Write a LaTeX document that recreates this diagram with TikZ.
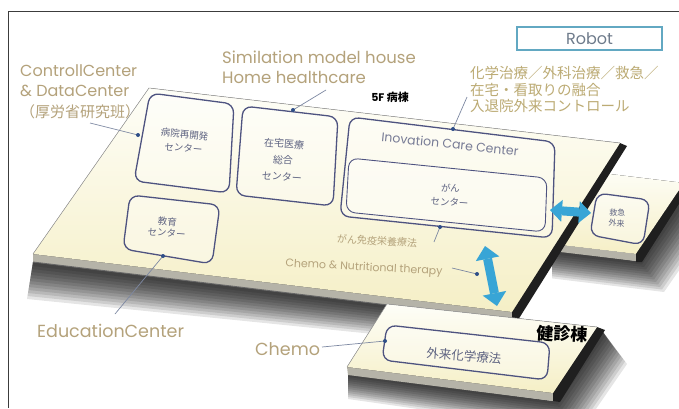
\documentclass[tikz,border=0pt]{standalone}
\usepackage{fontspec}
\setmainfont{Poppins}
\newfontfamily\jp{Noto Sans CJK JP}
\usetikzlibrary{arrows.meta}
\definecolor{labeltan}{HTML}{B4A27B}
\definecolor{labelolive}{HTML}{BCAB74}
\definecolor{boxline}{HTML}{4E5380}
\definecolor{boxtext}{HTML}{5F6482}
\definecolor{leadc}{HTML}{7D88A2}
\definecolor{dotc}{HTML}{2E4E88}
\definecolor{slabbot}{HTML}{F5EFC6}
\definecolor{slabtopc}{HTML}{FEFEF8}
\definecolor{edgegray}{HTML}{B5B3A8}
\definecolor{arrowblue}{HTML}{38A5D6}
\definecolor{robotline}{HTML}{62A8C2}
\definecolor{robottext}{HTML}{6E7B8B}
\definecolor{framec}{HTML}{3C3C3C}
\begin{document}
\begin{tikzpicture}[x=1pt,y=-1pt,
  lbl/.style={text=labeltan, inner sep=0pt, font=\fontsize{16}{18}\selectfont},
  jplbl/.style={text=labelolive, inner sep=0pt, font=\jp\fontsize{14.5}{17}\selectfont},
  boxshape/.style={draw=boxline, line width=1.3pt, rounded corners=9pt, fill=white, fill opacity=0.35},
  boxtxt/.style={text=boxtext, align=center, inner sep=0pt, font=\jp\fontsize{9.5}{14}\selectfont},
  leadline/.style={draw=leadc, line width=0.7pt},
  dotmark/.style={fill=dotc},
  blackedge/.style={fill=black!88},
  grayedge/.style={fill=edgegray},
  facefill/.style={top color=slabtopc, bottom color=slabbot},
  shadowpiece/.style={fill=black, opacity=0.1},
  bluearrow/.style={draw=arrowblue, line width=9pt,
    {Triangle[width=24pt,length=13pt,line width=0pt]}-{Triangle[width=24pt,length=13pt,line width=0pt]}}
]
\clip (0,0) rectangle (679,408);
\fill[white] (0,0) rectangle (679,408);

% ---------- shadows ----------
\foreach \k in {1,...,12} {
  \fill[shadowpiece] (33,262) -- (512,320) -- ({512+1.5*\k},{321+2.4*\k}) -- ({33-0.5*\k},{263+3*\k}) -- cycle;
  \fill[shadowpiece] (552,250) -- (636,261) -- (690,188) -- ({690+2*\k},{190+2.5*\k}) -- ({640+2*\k},{262+2.5*\k}) -- ({552},{252+2.2*\k}) -- cycle;
  \fill[shadowpiece] (348,374) -- (553,401) -- (603,332) -- ({603+2*\k},{334+2.5*\k}) -- ({556+2*\k},{402+2.5*\k}) -- ({348},{375+2*\k}) -- cycle;
}

% ---------- small slab (emergency) ----------
\fill[facefill] (560,168) -- (684,183) -- (636,254) -- (552,244) -- cycle;
\fill[grayedge] (552,244) -- (636,254) -- (636,261) -- (552,251) -- cycle;
\fill[blackedge] (684,183) -- (691,185) -- (642,262) -- (636,262) -- (636,254) -- cycle;

% ---------- main slab (5F) ----------
\fill[grayedge] (33,254) -- (512,312) -- (512,320) -- (33,262) -- cycle;
\draw[black!60, line width=0.9pt] (33,262) -- (512,320);
\fill[blackedge] (620,143) -- (627,146) -- (518,320) -- (512,320) -- (512,312) -- cycle;
\fill[facefill] (149,88) -- (620,143) -- (512,312) -- (33,254) -- cycle;
\draw[black!40, line width=0.5pt] (33,254) -- (149,88) -- (620,143);

% ---------- lower slab ----------
\fill[grayedge] (347,367) -- (553,393) -- (553,401) -- (348,375) -- cycle;
\fill[blackedge] (597,327) -- (605,330) -- (560,402) -- (553,401) -- (553,393) -- cycle;
\fill[facefill] (387,304) -- (597,327) -- (553,393) -- (347,367) -- cycle;
\draw[black!40, line width=0.5pt] (347,367) -- (387,304) -- (597,327);

% ---------- boxes ----------
\draw[boxshape] (150,93) -- (234,104) -- (229,193) -- (134,181) -- cycle;
\node[boxtxt, rotate=-5] (b1) at (184,141) {病院再開発\\センター};

\draw[boxshape] (243,106) -- (338,117) -- (333,206) -- (236,195) -- cycle;
\node[boxtxt, rotate=-4, font=\jp\fontsize{10}{16.5}\selectfont] (b2) at (283,160) {在宅医療\\総合\\センター};

\draw[boxshape] (350,117) -- (555,142) -- (552,238) -- (340,216) -- cycle;
\node[text=boxtext!85, inner sep=0pt, rotate=-6, font=\fontsize{12.5}{14}\selectfont] (icc) at (450,144) {Inovation Care Center};
\draw[boxshape, line width=0.9pt] (349,158) -- (547,178) -- (545,232) -- (346,212) -- cycle;
\node[boxtxt, rotate=-4] (gan) at (450,195) {がん\\センター};

\draw[boxshape] (130,195) -- (220,205) -- (212,264) -- (123,249) -- cycle;
\node[boxtxt, rotate=-4, font=\jp\fontsize{9.5}{11.5}\selectfont] (edu) at (167,227) {教育\\センター};

\draw[boxshape] (597,193) -- (650,200) -- (643,245) -- (590,235) -- cycle;
\node[boxtxt, rotate=-4, font=\jp\fontsize{8}{10.5}\selectfont] (er) at (617,218) {救急\\外来};

\draw[boxshape] (387,325) -- (550,343) -- (547,380) -- (382,360) -- cycle;
\node[boxtxt, rotate=-5, font=\jp\fontsize{12.5}{14}\selectfont] (oc) at (464,356) {外来化学療法};

% ---------- slab titles ----------
\node[inner sep=0pt, font=\bfseries\fontsize{11}{12}\selectfont] (f5) at (390,97) {5F {\jp\bfseries 病棟}};
\node[inner sep=0pt, font=\jp\bfseries\fontsize{17}{20}\selectfont, rotate=-3] (kenshin) at (562,334) {健診棟};

% ---------- blue arrows ----------
\coordinate (va1) at (485,246);
\coordinate (va2) at (497,306);
\draw[bluearrow] (va1) -- (va2);
\coordinate (ha1) at (550,210);
\coordinate (ha2) at (591,213);
\draw[bluearrow, {Triangle[width=22pt,length=12pt,line width=0pt]}-{Triangle[width=22pt,length=12pt,line width=0pt]}] (ha1) -- (ha2);

% ---------- labels ----------
\node[lbl, anchor=west] (cc1) at (20,71) {ControllCenter};
\node[lbl, anchor=west] (cc2) at (20,91) {\& DataCenter};
\node[lbl, anchor=west, font=\jp\fontsize{15}{17}\selectfont] (cc3) at (20,112) {（厚労省研究班）};

\node[lbl, anchor=west, font=\fontsize{16.5}{18}\selectfont] (sim1) at (222,57) {Similation model house};
\node[lbl, anchor=west, font=\fontsize{16.5}{18}\selectfont] (sim2) at (222,77) {Home healthcare};

\node[draw=robotline, line width=1.2pt, minimum width=145pt, minimum height=23pt, inner sep=0pt,
      text=robottext, font=\fontsize{16}{18}\selectfont] (robot) at (589.5,38.5) {Robot};

\node[jplbl, anchor=west] (jp1) at (470,73) {化学治療／外科治療／救急／};
\node[jplbl, anchor=west] (jp2) at (470,90) {在宅・看取りの融合};
\node[jplbl, anchor=west] (jp3) at (470,106) {入退院外来コントロール};

\node[inner sep=0pt, text=labeltan, font=\jp\fontsize{10}{12}\selectfont, rotate=-3] (immu) at (377,241) {がん免疫栄養療法};
\node[inner sep=0pt, text=labeltan, font=\fontsize{11}{12}\selectfont, rotate=-3] (chn) at (364,268) {Chemo \& Nutritional therapy};

\node[lbl, anchor=west, font=\fontsize{17.5}{19}\selectfont] (educ) at (37,331) {EducationCenter};
\node[lbl, anchor=west, font=\fontsize{17.5}{19}\selectfont] (chemo) at (255,349) {Chemo};

% ---------- leader lines ----------
\coordinate (l1) at (90,123);   \coordinate (d1) at (138,135);
\coordinate (l2) at (326,90);   \coordinate (d2) at (293,110);
\coordinate (l3) at (467,97);   \coordinate (d3) at (453,129);
\coordinate (l4) at (434,242);  \coordinate (d4) at (440,227);
\coordinate (l5) at (452,268);  \coordinate (d5) at (477,274);
\coordinate (l6) at (115,314);  \coordinate (d6) at (163,256);
\coordinate (l7) at (322,347);  \coordinate (d7) at (385,341);
\foreach \a/\b in {l1/d1,l2/d2,l3/d3,l4/d4,l5/d5,l6/d6,l7/d7} {
  \draw[leadline] (\a) -- (\b);
  \fill[dotmark] (\b) circle (2);
}

% ---------- frame ----------
\draw[framec, line width=0.8pt] (8,408) -- (8,11) -- (679,11);
\end{tikzpicture}
\end{document}
